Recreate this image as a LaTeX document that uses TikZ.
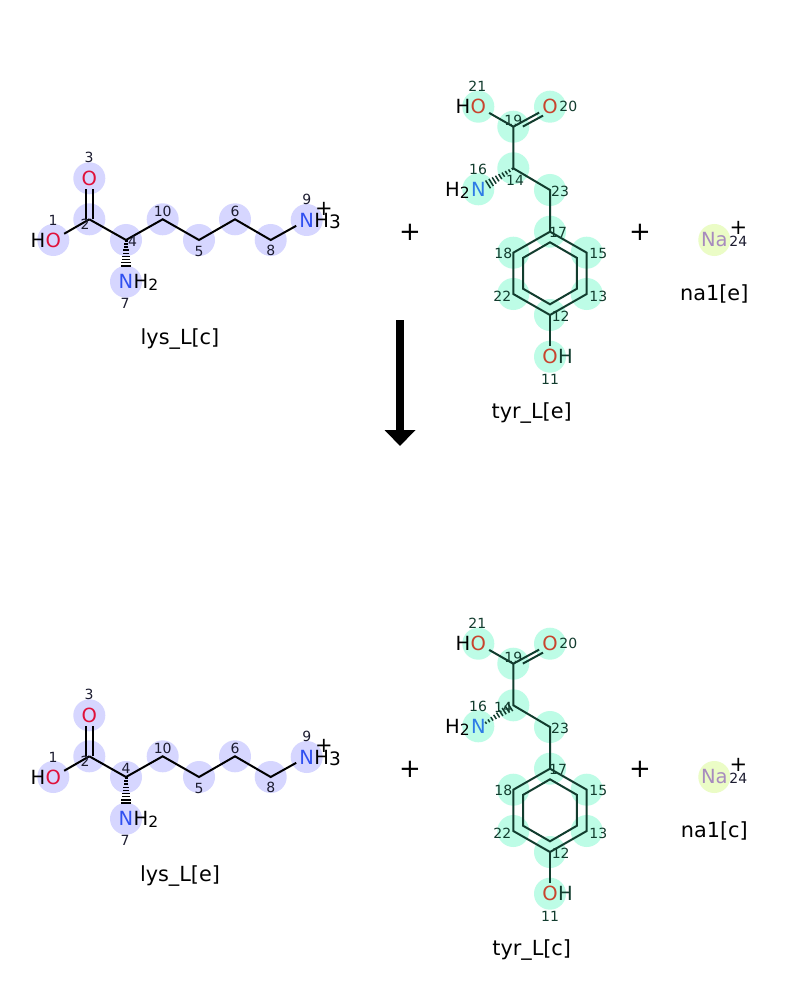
\documentclass[tikz,border=0pt]{standalone}
\usepackage{fontspec}
\setmainfont{DejaVu Sans}
\usetikzlibrary{calc,arrows.meta}
\definecolor{lysHL}{HTML}{D6D6FF}
\definecolor{tyrHL}{HTML}{BDFCE6}
\definecolor{naHL}{HTML}{EBFCC6}
\definecolor{oRed}{HTML}{E0103A}
\definecolor{oRedT}{HTML}{C8442E}
\definecolor{nBlue}{HTML}{3050F0}
\definecolor{nBlueT}{HTML}{2E7BE6}
\definecolor{tyrBond}{HTML}{123C2E}
\definecolor{naPurple}{HTML}{A78BBE}
\definecolor{numDark}{HTML}{1C1C30}
\tikzset{
  atom/.style={inner sep=3pt, font=\fontsize{19.5}{19.5}\selectfont},
  hatom/.style={inner sep=0pt, font=\fontsize{19.5}{19.5}\selectfont},
  num/.style={inner sep=0pt, font=\fontsize{14}{14}\selectfont},
  charge/.style={inner sep=0pt, font=\fontsize{21}{21}\selectfont},
  plussign/.style={inner sep=0pt, font=\fontsize{26}{26}\selectfont},
  molname/.style={inner sep=0pt, anchor=base, font=\fontsize{20.8}{20.8}\selectfont},
  lbond/.style={line width=2pt, black},
  tbond/.style={line width=2pt, tyrBond},
}
\newcommand\hashbond[5]{%
  \foreach \k in {0,...,9}{%
    \pgfmathsetmacro\hbT{0.03+0.97*\k/9}%
    \pgfmathsetmacro\hbW{#4+(#5-#4)*\k/9}%
    \draw[#3, line width=1.5pt] ($(#1)!\hbT!(#2)!\hbW pt!90:(#2)$) -- ($(#1)!\hbT!(#2)!\hbW pt!-90:(#2)$);
  }%
}
\newcommand\subs[1]{\raisebox{-2pt}{\fontsize{15.5}{15.5}\selectfont #1}}
% lysine: #1 name, #2 position of label 4
\newcommand\drawLys[2]{%
  \coordinate (a1) at (53.3,240);
  \coordinate (a2) at (89.3,219.3);
  \coordinate (a3) at (89.3,178.3);
  \coordinate (a4) at (126,240);
  \coordinate (a10) at (162.7,219.3);
  \coordinate (a5) at (199,240);
  \coordinate (a6) at (235,219.3);
  \coordinate (a8) at (270.7,240);
  \coordinate (a9) at (306.7,220);
  \coordinate (a7) at (126,281.7);
  \coordinate (w7) at (126,269);
  \foreach \p in {a1,a2,a3,a4,a10,a5,a6,a8,a9,a7} \fill[lysHL] (\p) circle[radius=16];
  \node[atom,text=oRed] (o1) at (a1) {O};
  \node[hatom,anchor=east] (h1) at ([xshift=3pt]o1.west) {H};
  \node[atom,text=oRed] (o3) at (a3) {O};
  \node[atom,text=nBlue] (n7) at (a7) {N};
  \node[hatom,anchor=base west] (h7) at ([xshift=-3pt]n7.base east) {H\subs{2}};
  \node[atom,text=nBlue] (n9) at (a9) {N};
  \node[hatom,anchor=base west] (h9) at ([xshift=-3pt]n9.base east) {H\raisebox{-1pt}{\fontsize{18.5}{18.5}\selectfont 3}};
  \draw[lbond] (o1) -- (a2);
  \draw[lbond] ($(a2)+(-3.7,0)$) -- ($(o3.south)+(-3.7,0)$);
  \draw[lbond] ($(a2)+(3.7,0)$) -- ($(o3.south)+(3.7,0)$);
  \draw[lbond] (a2) -- (a4) -- (a10) -- (a5) -- (a6) -- (a8) -- (n9);
  \hashbond{a4}{w7}{black}{1.5}{5.5}
  \node[num,text=numDark] (l1) at (53,220) {1};
  \node[num,text=numDark] (l2) at (85,224) {2};
  \node[num,text=numDark] (l3) at (89,157) {3};
  \node[num,text=numDark] (l4) at #2 {4};
  \node[num,text=numDark] (l10) at (162.7,211) {10};
  \node[num,text=numDark] (l5) at (199,251.7) {5};
  \node[num,text=numDark] (l6) at (235,211.7) {6};
  \node[num,text=numDark] (l8) at (270.7,250) {8};
  \node[num,text=numDark] (l9) at (306.7,199.3) {9};
  \node[num,text=numDark] (l7) at (125,303.3) {7};
  \node[charge] (q9) at (324,209.3) {+};
  \node[molname] (nm) at (180,344.3) {#1};
}
% tyrosine: #1 name, #2 label 14 position, #3 #4 hash from/to, #5 #6 widths
\newcommand\drawTyr[6]{%
  \coordinate (t21) at (478.3,106.7);
  \coordinate (t20) at (550,106.7);
  \coordinate (t19) at (513.3,126.7);
  \coordinate (t14) at (513.3,168.3);
  \coordinate (t16) at (478.3,189.3);
  \coordinate (t23) at (550,190);
  \coordinate (t17) at (550,231.7);
  \coordinate (t18) at (513.3,252.7);
  \coordinate (t15) at (586.7,252.7);
  \coordinate (t22) at (513.3,294);
  \coordinate (t13) at (586.7,294);
  \coordinate (t12) at (550,315);
  \coordinate (t11) at (550,356.7);
  \coordinate (wN) at (485,186.3);
  \coordinate (i1) at (550,242.3);
  \coordinate (i2) at (576.8,257.8);
  \coordinate (i3) at (576.8,288.8);
  \coordinate (i4) at (550,304.3);
  \coordinate (i5) at (523.2,288.8);
  \coordinate (i6) at (523.2,257.8);
  \foreach \p in {t21,t20,t19,t14,t16,t23,t17,t18,t15,t22,t13,t12,t11} \fill[tyrHL] (\p) circle[radius=16];
  \node[atom,text=oRedT] (o21) at (t21) {O};
  \node[hatom,anchor=east] (h21) at ([xshift=3pt]o21.west) {H};
  \node[atom,text=oRedT] (o20) at (t20) {O};
  \node[atom,text=nBlueT] (n16) at (t16) {N};
  \node[hatom,anchor=base east] (h16) at ([xshift=2pt]n16.base west) {H\subs{2}};
  \node[atom,text=oRedT] (o11) at (t11) {O};
  \node[hatom,anchor=base west,text=tyrBond] (h11) at ([xshift=-3pt]o11.base east) {H};
  \draw[tbond] (o21) -- (t19) -- (o20);
  \draw[tbond] ($($(t19)!0.2!(t20)$)+(2.2,3.9)$) -- ($($(t19)!0.75!(t20)$)+(2.2,3.9)$);
  \draw[tbond] (t19) -- (t14) -- (t23) -- (t17);
  \draw[tbond] (t17) -- (t15) -- (t13) -- (t12) -- (t22) -- (t18) -- cycle;
  \draw[tbond] (i1) -- (i2) -- (i3) -- (i4) -- (i5) -- (i6) -- cycle;
  \draw[tbond] (t12) -- (o11);
  \hashbond{#3}{#4}{tyrBond}{#5}{#6}
  \node[num,text=tyrBond] (m21) at (477.3,86.7) {21};
  \node[num,text=tyrBond] (m20) at (568.3,106.7) {20};
  \node[num,text=tyrBond] (m19) at (513.3,120) {19};
  \node[num,text=tyrBond] (m16) at (478,169.3) {16};
  \node[num,text=tyrBond] (m14) at #2 {14};
  \node[num,text=tyrBond] (m23) at (560,191) {23};
  \node[num,text=tyrBond] (m17) at (558,232.7) {17};
  \node[num,text=tyrBond] (m18) at (503.3,253.3) {18};
  \node[num,text=tyrBond] (m15) at (598.3,253.3) {15};
  \node[num,text=tyrBond] (m22) at (502.3,296) {22};
  \node[num,text=tyrBond] (m13) at (598.3,296) {13};
  \node[num,text=tyrBond] (m12) at (560.7,316.7) {12};
  \node[num,text=tyrBond] (m11) at (550,379.3) {11};
  \node[molname] (tn) at (531.7,418.3) {#1};
}
\newcommand\drawNa[1]{%
  \coordinate (na) at (714.3,240);
  \fill[naHL] (na) circle[radius=16];
  \node[atom,text=naPurple] (naT) at (na) {Na};
  \node[num,text=numDark] (m24) at (738.3,241.7) {24};
  \node[charge] (q24) at (738.3,228.3) {+};
  \node[molname] (nn) at (714.3,300.7) {#1};
  \node[plussign] (p1) at (410,232) {+};
  \node[plussign] (p2) at (640,232.7) {+};
}
\begin{document}
\begin{tikzpicture}[x=1pt,y=-1pt]
  \fill[white] (0,0) rectangle (800,1000);
  \useasboundingbox (0,0) rectangle (800,1000);
  \begin{scope}[name prefix=top-]
    \drawLys{lys\_L[c]}{(132.7,241.7)}
    \drawTyr{tyr\_L[e]}{(515,180)}{t14}{wN}{1.2}{5}
    \drawNa{na1[e]}
  \end{scope}
  \coordinate (arrS) at (400,320);
  \coordinate (arrE) at (400,446);
  \draw[line width=8pt, -{Triangle[length=16pt,width=30pt]}] (arrS) -- (arrE);
  \begin{scope}[yshift=-537pt, name prefix=bot-]
    \drawLys{lys\_L[e]}{(126,231)}
    \drawTyr{tyr\_L[c]}{(503,170)}{wN}{t14}{1.2}{5}
    \drawNa{na1[c]}
  \end{scope}
\end{tikzpicture}
\end{document}
